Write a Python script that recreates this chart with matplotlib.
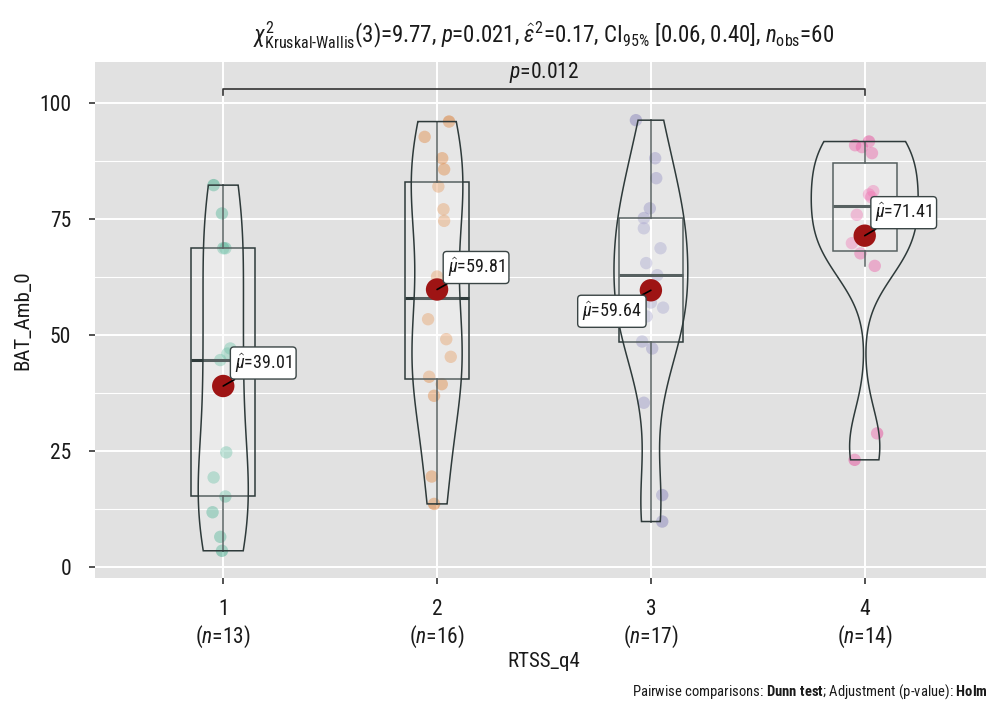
import numpy as np
import matplotlib
matplotlib.use("Agg")
import matplotlib.pyplot as plt
import matplotlib.patches as patches
from matplotlib import font_manager

# BAT_Amb_0 by RTSS quartile
groups = ['1', '2', '3', '4']
counts = [13, 16, 17, 14]
bat_g1 = [82.3, 76.2, 68.7, 68.7, 47.1, 46.0, 44.6, 24.7, 19.3, 15.2, 11.8, 6.5, 3.5]
bat_g2 = [96.0, 92.7, 88.1, 85.7, 82.0, 77.1, 74.6, 62.6, 53.4, 49.1, 45.3, 41.0, 39.4,
          36.9, 19.5, 13.6]
bat_g3 = [96.3, 88.1, 83.8, 77.3, 75.2, 73.0, 68.7, 65.5, 62.9, 57.0, 55.9, 54.0, 48.6,
          47.1, 35.4, 15.5, 9.8]
bat_g4 = [91.7, 90.9, 90.5, 89.2, 81.0, 80.3, 79.7, 75.9, 70.5, 69.8, 67.6, 64.9,
          28.8, 23.1]
means = [39.01, 59.81, 59.64, 71.41]
pair_p = '0.012'

# horizontal jitter of the raw points
jit_g1 = [-0.045, -0.006, 0.01, 0.0, 0.033, 0.02, -0.014, 0.014, -0.045, 0.01, -0.05, -0.014, -0.006]
jit_g2 = [0.056, -0.058, 0.024, 0.033, 0.006, 0.03, 0.033, 0.0, -0.042, 0.043, 0.064, -0.037,
          0.022, -0.014, -0.025, -0.014]
jit_g3 = [-0.07, 0.02, 0.025, -0.005, -0.033, -0.033, 0.045, -0.022, 0.03, 0.0, 0.057, -0.02,
          -0.041, 0.006, -0.033, 0.053, 0.053]
jit_g4 = [0.02, -0.045, -0.013, 0.034, 0.04, 0.02, 0.03, -0.037, 0.0, -0.06, -0.02, 0.047,
          0.058, -0.047]

data = [bat_g1, bat_g2, bat_g3, bat_g4]
jits = [jit_g1, jit_g2, jit_g3, jit_g4]
palette = ['#1B9E77', '#D95F02', '#7570B3', '#E7298A']
label_off = [(40, 23), (39, 22), (-39, -21), (39, 23)]


def pick_font():
    # prefer a narrow sans; fall back to Roboto
    ttf = font_manager.fontManager.ttflist
    for want in ('Liberation Sans Narrow', 'Roboto Condensed', 'Arial Narrow',
                 'Open Sans Condensed', 'Noto Sans Condensed'):
        if any(f.name == want for f in ttf):
            return want, 'normal'
    for fam in ('DejaVu Sans', 'Noto Sans', 'Open Sans'):
        if any(f.name == fam and str(f.stretch) in ('condensed', 'semi-condensed', '75', '87.5')
               for f in ttf):
            return fam, 'condensed'
    return 'Roboto', 'normal'


base, stretch = pick_font()
plt.rcParams['font.family'] = [base, 'DejaVu Sans']
plt.rcParams['font.stretch'] = stretch
plt.rcParams['mathtext.fontset'] = 'custom'
plt.rcParams['mathtext.rm'] = f'{base}:stretch={stretch}'
plt.rcParams['mathtext.it'] = f'{base}:italic:stretch={stretch}'
plt.rcParams['mathtext.bf'] = f'{base}:bold:stretch={stretch}'
plt.rcParams['mathtext.sf'] = f'{base}:stretch={stretch}'

fs = 15.5
ink = '#2E3A3A'
txt = '#1A1A1A'

fig = plt.figure(figsize=(9.86, 7.05), dpi=100)
ax = fig.add_axes([0.0963, 0.1806, 0.9108, 0.7312])
ax.set_facecolor('#E1E1E1')
ax.set_xlim(0.4, 4.6)
ax.set_ylim(-2.3, 108.8)
for s in ax.spines.values():
    s.set_visible(False)

ax.set_yticks([0, 25, 50, 75, 100])
ax.set_yticks([12.5, 37.5, 62.5, 87.5], minor=True)
ax.set_xticks([1, 2, 3, 4])
ax.set_xticklabels([f"{g}\n($n$={n})" for g, n in zip(groups, counts)])
ax.grid(which='major', color='white', lw=1.4)
ax.grid(which='minor', axis='y', color='white', lw=0.8)
ax.set_axisbelow(True)
ax.tick_params(which='major', length=4, width=1.2, color='#333333', labelsize=fs,
               labelcolor=txt)
ax.tick_params(axis='y', pad=13)
ax.tick_params(axis='x', pad=11)
ax.tick_params(which='minor', length=0)
for lab in ax.get_xticklabels():
    lab.set_linespacing(1.2)

# violin densities (gaussian kernel, nrd0 bandwidth, trimmed)
grids, dens = [], []
for y in data:
    y = np.asarray(y)
    n = len(y)
    q75, q25 = np.percentile(y, [75, 25])
    bw = 0.9 * min(y.std(ddof=1), (q75 - q25) / 1.34) * n ** -0.2
    t = np.linspace(y.min(), y.max(), 512)
    d = np.exp(-0.5 * ((t[:, None] - y[None, :]) / bw) ** 2).sum(1) / (n * bw * np.sqrt(2 * np.pi))
    grids.append(t)
    dens.append(d)
dmax = max(d.max() for d in dens)

for i, y in enumerate(data):
    x = i + 1
    y = np.asarray(y)
    ax.scatter(x + np.asarray(jits[i]), y, s=80, color=palette[i], alpha=0.4,
               edgecolors='none', zorder=2)

    q1, med, q3 = np.percentile(y, [25, 50, 75])
    iqr = q3 - q1
    lo = y[y >= q1 - 1.5 * iqr].min()
    hi = y[y <= q3 + 1.5 * iqr].max()
    ax.add_patch(patches.Rectangle((x - 0.15, q1), 0.3, q3 - q1, facecolor=(1, 1, 1, 0.2),
                                   edgecolor=ink, lw=1.1, zorder=3))
    ax.plot([x - 0.15, x + 0.15], [med, med], color=ink, lw=2.2, zorder=3,
            solid_capstyle='butt')
    ax.plot([x, x], [q3, hi], color=ink, lw=1.1, zorder=3)
    ax.plot([x, x], [lo, q1], color=ink, lw=1.1, zorder=3)

    half = 0.25 * dens[i] / dmax
    vx = np.concatenate([x - half, (x + half)[::-1]])
    vy = np.concatenate([grids[i], grids[i][::-1]])
    ax.fill(vx, vy, facecolor=(1, 1, 1, 0.2), edgecolor=ink, lw=1.1, zorder=4)

    ax.scatter([x], [means[i]], s=260, color='#9E1414', edgecolors='none', zorder=5)
    ax.annotate(r"$\hat{\mu}$=" + f"{means[i]:.2f}", xy=(x, means[i]),
                xytext=label_off[i], textcoords='offset pixels', ha='center', va='center',
                fontsize=13, color=txt, zorder=6,
                bbox=dict(boxstyle='round,pad=0.25,rounding_size=0.2', fc='white',
                          ec='#3A4545', lw=1.0),
                arrowprops=dict(arrowstyle='-', color='black', lw=1.2,
                                shrinkA=0, shrinkB=0))

# pairwise bracket between groups 1 and 4
ax.plot([1, 1, 4, 4], [101.7, 103.0, 103.0, 101.7], color='#333333', lw=1.2, zorder=3)
ax.text(2.5, 106.6, r"$\mathit{p}$=" + pair_p, ha='center', va='center', fontsize=fs,
        color=txt)

ax.set_xlabel('RTSS_q4', fontsize=fs - 0.5, color=txt, labelpad=2)
ax.set_ylabel('BAT_Amb_0', fontsize=fs - 0.5, color=txt, labelpad=5)

cx = (ax.get_position().x0 + ax.get_position().x1) / 2
title = (r"$\chi^2_{\text{Kruskal-Wallis}}$(3)=9.77, $\mathit{p}$=0.021, "
         r"$\hat{\epsilon}^2$=0.17, $\mathrm{CI}_{95\%}$ [0.06, 0.40], "
         r"$\mathit{n}_{\mathrm{obs}}$=60")
fig.text(cx, 1 - 35 / 705, title, ha='center', va='center', fontsize=16.5, color=txt)
fig.text(632 / 986, 1 - 692 / 705,
         r"Pairwise comparisons: $\mathbf{Dunn\ test}$; Adjustment (p-value): $\mathbf{Holm}$",
         ha='left', va='center', fontsize=10.5, color=txt)

fig.savefig('out.png', dpi=100)
